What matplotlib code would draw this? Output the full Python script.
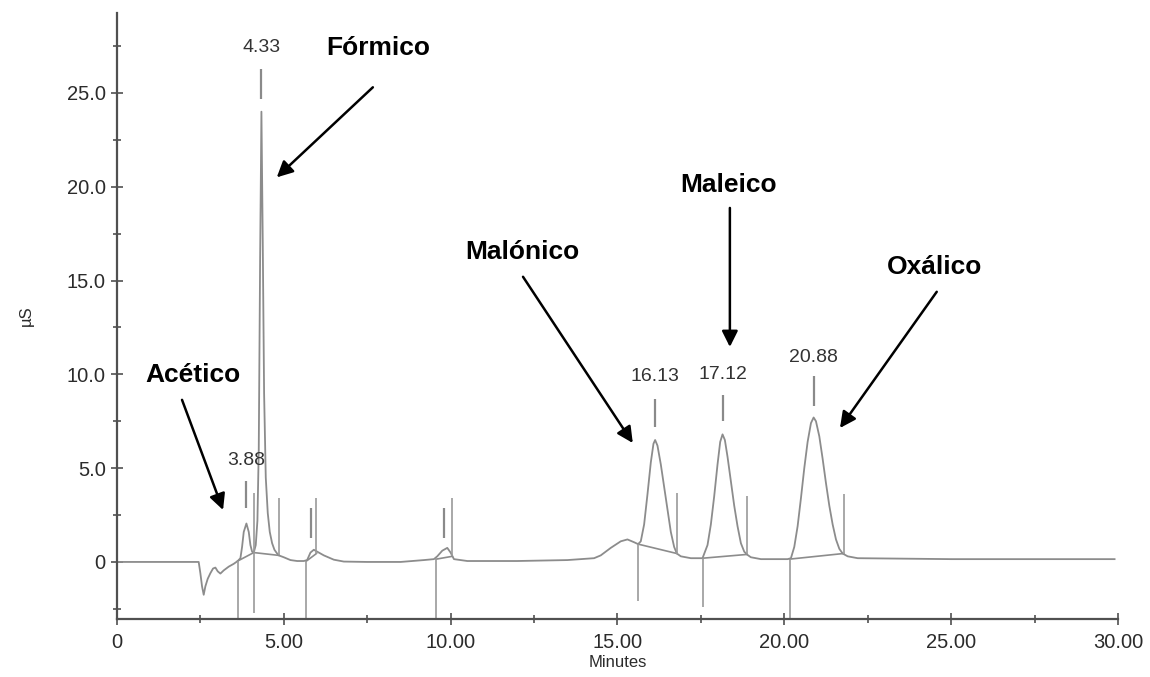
import numpy as np
import matplotlib.pyplot as plt
from matplotlib.ticker import MultipleLocator

# trace del cromatogramma (minuti, µS)
trace_t = [0.0, 2.45, 2.5, 2.55, 2.6, 2.65, 2.72, 2.8, 2.88, 2.95, 3.02, 3.1, 3.2, 3.35, 3.5,
           3.62, 3.7, 3.75, 3.8, 3.88, 3.95, 4.0, 4.05, 4.1,
           4.16, 4.21, 4.25, 4.29, 4.33, 4.37, 4.41, 4.46, 4.52, 4.58, 4.65, 4.72, 4.8, 4.85,
           5.0, 5.2, 5.4, 5.6, 5.7, 5.8, 5.9, 6.0, 6.2, 6.5, 6.8, 7.5, 8.5, 9.2, 9.5,
           9.6, 9.75, 9.9, 10.0, 10.1, 10.5, 12.0, 13.5, 14.3, 14.5, 14.8, 15.1, 15.3, 15.5, 15.62,
           15.7, 15.8, 15.9, 16.0, 16.08, 16.13, 16.2, 16.3, 16.4, 16.5, 16.6, 16.7, 16.78,
           16.9, 17.2, 17.55,
           17.7, 17.8, 17.9, 18.0, 18.08, 18.15, 18.22, 18.3, 18.4, 18.5, 18.6, 18.7, 18.8, 18.88,
           19.0, 19.3, 20.1,
           20.2, 20.3, 20.4, 20.5, 20.6, 20.7, 20.8, 20.88, 20.95, 21.05, 21.15, 21.25, 21.35,
           21.45, 21.55, 21.65, 21.75, 21.9, 22.2, 25.0, 29.9]
trace_y = [0.0, 0.0, -0.6, -1.3, -1.75, -1.3, -0.9, -0.6, -0.35, -0.3, -0.5, -0.62, -0.45, -0.25, -0.1,
           0.05, 0.2, 0.8, 1.6, 2.05, 1.6, 0.9, 0.55, 0.5,
           0.9, 2.2, 6.0, 16.0, 24.0, 17.0, 9.0, 4.5, 2.6, 1.6, 1.0, 0.65, 0.45, 0.35,
           0.25, 0.1, 0.05, 0.05, 0.1, 0.5, 0.65, 0.55, 0.35, 0.12, 0.02, 0.0, 0.0, 0.1, 0.15,
           0.3, 0.6, 0.75, 0.5, 0.15, 0.05, 0.05, 0.1, 0.2, 0.35, 0.75, 1.1, 1.2, 1.05, 0.95,
           1.1, 2.0, 3.6, 5.3, 6.3, 6.5, 6.2, 5.2, 4.0, 2.8, 1.6, 0.8, 0.45,
           0.3, 0.2, 0.2,
           0.9, 2.0, 3.5, 5.2, 6.4, 6.8, 6.5, 5.6, 4.3, 3.0, 1.9, 1.0, 0.55, 0.4,
           0.25, 0.15, 0.15,
           0.2, 0.8, 1.9, 3.4, 5.0, 6.4, 7.4, 7.7, 7.5, 6.7, 5.5, 4.2, 3.0,
           2.0, 1.2, 0.7, 0.45, 0.3, 0.2, 0.15, 0.15]

# linee di base dell'integrazione
base_t0 = [3.62, 4.1, 5.68, 9.57, 15.62, 17.56, 20.16]
base_y0 = [0.05, 0.5, 0.05, 0.15, 0.95, 0.2, 0.15]
base_t1 = [4.1, 4.85, 5.98, 10.05, 16.78, 18.88, 21.78]
base_y1 = [0.5, 0.35, 0.45, 0.3, 0.45, 0.4, 0.45]

# marcatori verticali (inizio/fine picco)
mark_t = [3.62, 4.1, 5.68, 9.57, 15.62, 17.56, 20.16, 4.85, 5.98, 10.05, 16.78, 18.88, 21.78]
mark_lo = [-3.0, -2.7, -3.0, -3.0, -2.1, -2.4, -3.0, 0.35, 0.45, 0.3, 0.45, 0.4, 0.45]
mark_hi = [0.05, 3.7, 0.05, 0.15, 0.95, 0.2, 0.15, 3.4, 3.4, 3.4, 3.7, 3.5, 3.6]

# trattini sopra i picchi
dash_t = [3.88, 4.33, 5.83, 9.8, 16.13, 18.15, 20.88]
dash_lo = [2.9, 24.7, 1.3, 1.3, 7.2, 7.5, 8.3]
dash_hi = [4.3, 26.3, 2.9, 2.9, 8.7, 8.9, 9.9]

# tempi di ritenzione scritti
rt_t = [3.88, 4.33, 16.13, 18.15, 20.88]
rt_y = [5.4, 27.4, 9.9, 10.0, 10.9]
rt_text = ["3.88", "4.33", "16.13", "17.12", "20.88"]

# nomi degli acidi con frecce
acid_names = ["Fórmico", "Acético", "Malónico", "Maleico", "Oxálico"]
acid_text_t = [7.82, 2.28, 12.14, 18.34, 24.51]
acid_text_y = [27.4, 9.97, 16.5, 20.1, 15.7]
arrow_from_t = [7.67, 1.95, 12.17, 18.37, 24.57]
arrow_from_y = [25.3, 8.64, 15.2, 18.87, 14.4]
arrow_to_t = [4.79, 3.18, 15.46, 18.37, 21.67]
arrow_to_y = [20.5, 2.77, 6.34, 11.46, 7.14]

plt.rcParams['font.family'] = ['Liberation Sans', 'DejaVu Sans']

fig = plt.figure(figsize=(11.5, 6.77), dpi=100)
ax = fig.add_axes([0.1017, 0.0857, 0.8704, 0.8951])

gray = "#8c8c8c"
ax.plot(trace_t, trace_y, color=gray, lw=1.3)
for t0, y0, t1, y1 in zip(base_t0, base_y0, base_t1, base_y1):
    ax.plot([t0, t1], [y0, y1], color=gray, lw=1.2)
ax.vlines(mark_t, mark_lo, mark_hi, color="#9a9a9a", lw=1.2)
ax.vlines(dash_t, dash_lo, dash_hi, color="#8a8a8a", lw=1.6)

for t, y, s in zip(rt_t, rt_y, rt_text):
    ax.text(t, y, s, ha="center", va="center", fontsize=14, color="#333333")

for name, tx, ty, fx, fy, hx, hy in zip(acid_names, acid_text_t, acid_text_y,
                                         arrow_from_t, arrow_from_y, arrow_to_t, arrow_to_y):
    ax.text(tx, ty, name, ha="center", va="center", fontsize=19, fontweight="bold", color="black")
    ax.annotate("", xy=(hx, hy), xytext=(fx, fy),
                arrowprops=dict(arrowstyle="-|>", color="black", lw=1.8,
                                mutation_scale=24, shrinkA=0, shrinkB=0))

ax.set_xlim(0, 30)
ax.set_ylim(-3.04, 29.26)
for side in ["top", "right"]:
    ax.spines[side].set_visible(False)
for side in ["left", "bottom"]:
    ax.spines[side].set_color("#505050")
    ax.spines[side].set_linewidth(1.6)

ax.set_xticks([0, 5, 10, 15, 20, 25, 30])
ax.set_xticklabels(["0", "5.00", "10.00", "15.00", "20.00", "25.00", "30.00"])
ax.set_yticks([0, 5, 10, 15, 20, 25])
ax.set_yticklabels(["0", "5.0", "10.0", "15.0", "20.0", "25.0"])
ax.xaxis.set_minor_locator(MultipleLocator(2.5))
ax.yaxis.set_minor_locator(MultipleLocator(2.5))
ax.tick_params(which="major", direction="inout", length=8, width=1.2, color="#505050",
               labelsize=14.5, labelcolor="#2b2b2b")
ax.tick_params(which="minor", direction="inout", length=6, width=1.2, color="#505050")
ax.tick_params(axis="x", pad=6)
ax.tick_params(axis="y", pad=4)

ax.set_xlabel("Minutes", fontsize=12, color="#2b2b2b", labelpad=2)
ax.set_ylabel("µS", fontsize=12, color="#2b2b2b", labelpad=24)

fig.savefig("out.png", dpi=100)
